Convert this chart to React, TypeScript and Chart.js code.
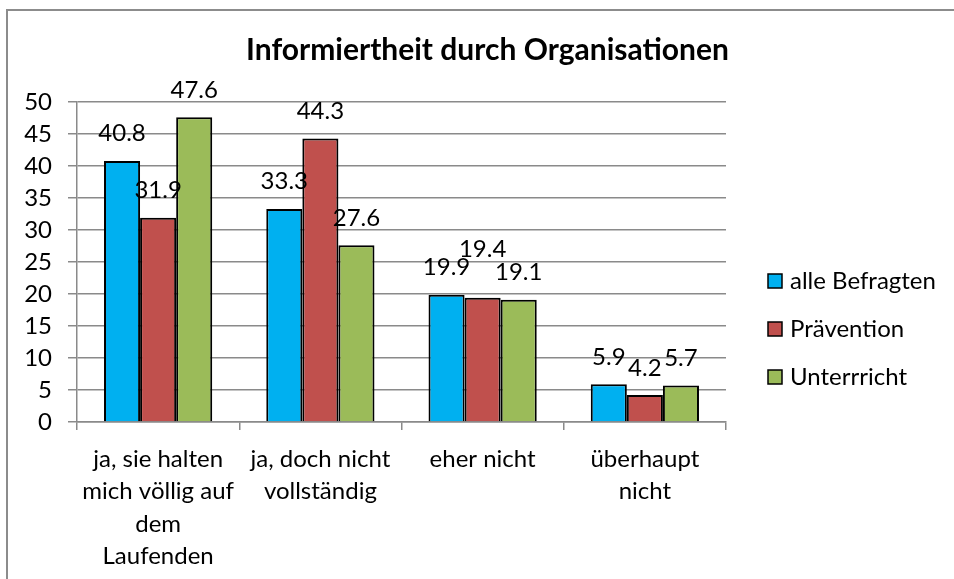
import React, { useEffect, useRef } from "react";
import { Chart, registerables } from "chart.js";

Chart.register(...registerables);

const chartTitle = "Informiertheit durch Organisationen";
const categories: string[][] = [
  ["ja, sie halten", "mich völlig auf", "dem", "Laufenden"],
  ["ja, doch nicht", "vollständig"],
  ["eher nicht"],
  ["überhaupt", "nicht"],
];
const seriesNames = ["alle Befragten", "Prävention", "Unterrricht"];
const alleBefragten = [40.8, 33.3, 19.9, 5.9];
const praevention = [31.9, 44.3, 19.4, 4.2];
const unterricht = [47.6, 27.6, 19.1, 5.7];
const seriesColors = ["#00B0F0", "#C0504D", "#9BBB59"];
const yMin = 0;
const yMax = 50;
const yStep = 5;

const FONT = "Lato, 'Open Sans', sans-serif";
const FONT_SIZE = 24;
const GRID = "#8a8a8a";

const labelPlugin = {
  id: "valueLabels",
  afterDatasetsDraw(chart: any) {
    const ctx = chart.ctx;
    ctx.save();
    ctx.font = `${FONT_SIZE}px ${FONT}`;
    ctx.fillStyle = "#000";
    ctx.textAlign = "center";
    ctx.textBaseline = "alphabetic";
    const capH = FONT_SIZE * 0.72;
    const placed: { l: number; r: number; t: number; b: number }[] = [];
    const n = chart.data.labels.length;
    for (let c = 0; c < n; c++) {
      chart.data.datasets.forEach((ds: any, di: number) => {
        const meta = chart.getDatasetMeta(di);
        const el = meta.data[c];
        if (!el) return;
        const text = String(ds.data[c]);
        const w = ctx.measureText(text).width;
        let base = el.y - 19.5;
        let moved = true;
        let guard = 0;
        while (moved && guard < 10) {
          moved = false;
          guard++;
          for (const p of placed) {
            const l = el.x - w / 2;
            const r = el.x + w / 2;
            const t = base - capH;
            const hOv = Math.min(r, p.r) - Math.max(l, p.l);
            const vOv = Math.min(base, p.b) - Math.max(t, p.t);
            if (hOv > 1 && vOv > 1) {
              base = p.t - 1;
              moved = true;
            }
          }
        }
        placed.push({ l: el.x - w / 2, r: el.x + w / 2, t: base - capH, b: base });
        ctx.fillText(text, el.x, base);
      });
    }
    ctx.restore();
  },
};

const titleLegendPlugin = {
  id: "titleLegend",
  afterDraw(chart: any) {
    const ctx = chart.ctx;
    ctx.save();
    ctx.fillStyle = "#000";
    ctx.font = `bold 30px ${FONT}`;
    ctx.textAlign = "center";
    ctx.textBaseline = "alphabetic";
    ctx.fillText(chartTitle, 487.5, 60);

    ctx.font = `${FONT_SIZE}px ${FONT}`;
    ctx.textAlign = "left";
    chart.data.datasets.forEach((ds: any, i: number) => {
      const y = 274 + i * 48;
      ctx.fillStyle = ds.backgroundColor;
      ctx.fillRect(768, y, 14, 14);
      ctx.strokeStyle = "#000";
      ctx.lineWidth = 1.5;
      ctx.strokeRect(768, y, 14, 14);
      ctx.fillStyle = "#000";
      ctx.fillText(ds.label, 790, y + 15);
    });
    ctx.restore();
  },
};

export default function App() {
  const ref = useRef<HTMLCanvasElement | null>(null);

  useEffect(() => {
    if (!ref.current) return;
    const values = [alleBefragten, praevention, unterricht];
    const chart = new Chart(ref.current, {
      type: "bar",
      data: {
        labels: categories as any,
        datasets: seriesNames.map((name, i) => ({
          label: name,
          data: values[i],
          backgroundColor: seriesColors[i],
          borderColor: "#000",
          borderWidth: 2,
          barPercentage: 1,
          categoryPercentage: 0.667,
        })),
      },
      options: {
        responsive: false,
        animation: false,
        devicePixelRatio: 1,
        layout: { padding: { left: 0, top: 102, right: 228, bottom: 0 } },
        plugins: {
          legend: { display: false },
          title: { display: false },
          tooltip: { enabled: false },
        },
        scales: {
          x: {
            grid: {
              offset: true,
              drawOnChartArea: false,
              drawTicks: true,
              tickLength: 8,
              color: GRID,
              lineWidth: 1.5,
            },
            border: { color: GRID, width: 1.5 },
            ticks: {
              font: { family: FONT, size: FONT_SIZE, lineHeight: 1.35 },
              color: "#000",
              padding: 13,
              maxRotation: 0,
              minRotation: 0,
              autoSkip: false,
            },
            afterFit: (s: any) => {
              s.height = 157;
            },
          },
          y: {
            min: yMin,
            max: yMax,
            ticks: {
              stepSize: yStep,
              font: { family: FONT, size: FONT_SIZE },
              color: "#000",
              padding: 16,
            },
            grid: { color: GRID, lineWidth: 1.5, tickLength: 9 },
            border: { color: GRID, width: 1.5 },
            afterFit: (s: any) => {
              s.width = 77;
            },
          },
        },
      },
      plugins: [labelPlugin, titleLegendPlugin],
    });
    return () => chart.destroy();
  }, []);

  return (
    <div
      style={{
        position: "fixed",
        left: 0,
        top: 0,
        width: 954,
        height: 579,
        overflow: "hidden",
        background: "#fff",
      }}
    >
      <div
        style={{
          position: "absolute",
          left: 6,
          top: 9,
          width: 1200,
          height: 1200,
          border: "2px solid #8c8c8c",
          boxSizing: "border-box",
        }}
      />
      <canvas
        ref={ref}
        width={954}
        height={579}
        style={{ position: "absolute", left: 0, top: 0 }}
      />
    </div>
  );
}
